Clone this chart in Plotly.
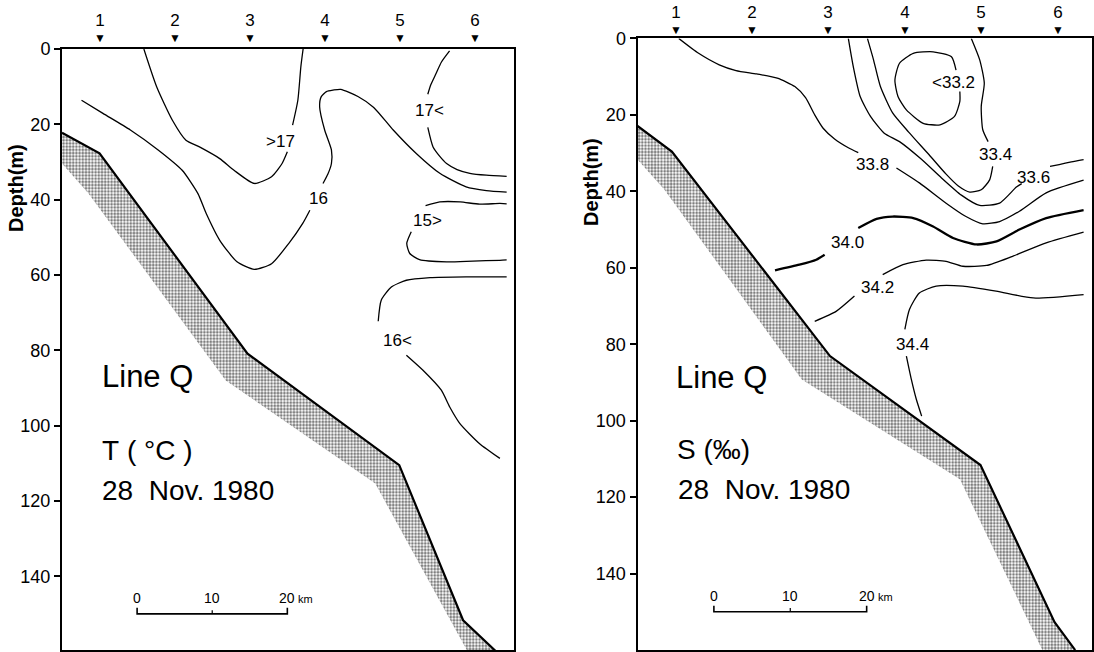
import plotly.graph_objects as go

FONT = "Liberation Sans, Arial, sans-serif"

# ---------------- shared data ----------------
station_labels = ["1", "2", "3", "4", "5", "6"]
station_km = [5, 15, 25, 35, 45, 55]
depth_ticks = [0, 20, 40, 60, 80, 100, 120, 140]
scale_km = [10, 20, 30]          # positions of the 0 / 10 / 20 km scale-bar marks
scale_text = ["0", "10", "20"]
scale_depth = 150

# ---------------- Temperature panel (left) ----------------
t_bottom_x = [0, 5.0, 24.7, 44.9, 53.4, 57.8]
t_bottom_d = [22.2, 27.7, 80.9, 110.5, 151.7, 160]
t_band_x = [0, 3.5, 21.8, 41.7, 54.0]
t_band_d = [30.4, 38.3, 88, 115.4, 160]

t_gt17_x = [10.9, 12.6, 14.7, 16.5, 18.3, 21.0, 22.9, 25.6, 27.9, 29.3, 30.0, None, 30.7, 31.4, 31.8, 32.1]
t_gt17_d = [0, 10.0, 18.9, 24.2, 26.0, 29.1, 32.2, 35.7, 33.9, 30.4, 27.3, None, 20.2, 13.6, 4.7, 0]

t_16_x = [2.6, 5.45, 9.1, 12.8, 16.0, 18.1, 19.2, 21.0, 23.3, 25.6, 27.9, 30.2, 32.05, 33.0, None,
          34.75, 35.4, 35.87, 35.87, 34.97, 34.3, 34.5, 35.2, 36.1, 37.1, 39.4, 41.5, 44.1, 47.2,
          50.3, 53.8, 56.5, 59.2]
t_16_d = [13.6, 17.1, 21.5, 26.8, 32.2, 38.4, 43.7, 50.8, 56.5, 58.5, 57.0, 51.6, 46.3, 42.8, None,
          35.7, 33.2, 30.4, 26.8, 21.5, 15.3, 12.7, 11.3, 10.9, 10.7, 12.6, 15.5, 21.5, 27.8,
          33.0, 36.6, 37.6, 38.0]

t_17lt_x = [51.6, 50.5, 49.8, 49.1, 48.7, None, 48.7, 49.4, 50.3, 51.2, 52.6, 54.3, 56.5, 59.2]
t_17lt_d = [0.5, 3.5, 6.5, 9.5, 12.0, None, 20.8, 26.0, 28.5, 30.4, 32.0, 33.0, 33.5, 33.8]

t_15gt_x = [59.2, 58.3, 55.6, 53.0, 50.3, 48.4, None, 46.5, 45.9, 46.3, 47.6, 51.2, 54.7, 58.3, 59.2]
t_15gt_d = [41.1, 41.0, 41.2, 40.6, 40.6, 41.6, None, 48.5, 51.6, 54.3, 55.9, 56.5, 56.3, 56.1, 56.0]

t_16lt_x = [59.2, 58.3, 53.8, 49.0, 45.85, 43.85, 42.5, 42.1, None, 45.85, 48.06, 50.5, 51.6, 52.95, 55.6, 58.3]
t_16lt_d = [60.5, 60.5, 60.5, 60.7, 61.4, 63.2, 66.7, 72.3, None, 81.3, 85.3, 90.6, 95.0, 99.4, 104.8, 108.7]

t_label_text = [">17", "16", "17<", "15>", "16<"]
t_label_x = [29.1, 34.1, 48.9, 48.7, 44.6]
t_label_d = [24.6, 39.7, 16.2, 45.4, 77.3]

# ---------------- Salinity panel (right) ----------------
s_bottom_x = [0, 4.5, 25.2, 44.9, 54.6, 57.3]
s_bottom_d = [22.9, 29.6, 83.1, 111.6, 152.7, 160]
s_band_x = [0, 3.5, 21.5, 42.2, 53.0]
s_band_d = [31.7, 39.5, 89.2, 115.3, 160]

s_338_x = [5.4, 8.0, 10.7, 12.9, 15.6, 18.3, 20.6, 22.0, 23.2, 24.3, 25.8, 27.6, 28.9, None,
           33.9, 36.9, 40.4, 43.0, 45.2, 47.4, 50.0, 53.5, 58.4]
s_338_d = [0, 3.9, 6.9, 8.4, 9.3, 10.4, 12.6, 15.5, 20.0, 23.5, 26.3, 28.6, 29.9, None,
           33.9, 37.8, 43.1, 46.6, 48.5, 47.9, 45.2, 40.4, 37.1]

s_336_x = [27.6, 28.25, 29.15, 30.5, 32.3, 34.3, 37.1, 39.8, 42.4, 44.8, 47.4, 49.6, 50.3, None,
           54.0, 55.2, 56.8, 58.4]
s_336_d = [0, 7.4, 15.2, 20.4, 24.8, 27.0, 31.5, 36.5, 41.0, 43.7, 43.1, 38.9, 38.0, None,
           33.5, 33.0, 32.3, 31.7]

s_334_x = [30.1, 30.9, 31.8, 33.4, 35.5, 38.2, 40.4, 42.0, 43.5, 45.0, 46.1, 46.5, None,
           45.9, 45.2, 45.0, 45.4, 44.8, 43.7]
s_334_d = [0, 5.6, 12.6, 19.5, 24.5, 30.5, 35.5, 38.6, 40.2, 39.6, 37.0, 33.5, None,
           27.0, 23.9, 17.8, 11.7, 5.6, 0]

s_332_x = [41.7, 41.1, 38.7, 36.1, 34.3, 33.7, 34.1, 35.2, 37.4, 39.6, 41.5, 42.2, 42.2]
s_332_d = [8.3, 4.8, 3.5, 3.9, 6.5, 10.9, 15.2, 18.7, 22.2, 22.6, 20.4, 16.5, 13.9]

s_340_x = [18.0, 21.2, 23.4, 24.5, None, 28.9, 31.3, 33.4, 36.1, 38.7, 41.3, 44.4, 47.0, 50.0,
           53.5, 58.4]
s_340_d = [60.65, 59.2, 57.9, 56.6, None, 49.6, 47.2, 46.6, 47.0, 49.2, 52.2, 53.9, 53.1, 50.0,
           47.0, 44.9]

s_342_x = [23.2, 26.0, 28.4, None, 32.1, 34.75, 37.8, 40.4, 42.6, 45.7, 49.1, 53.5, 58.4]
s_342_d = [74.0, 71.4, 67.4, None, 61.8, 59.2, 58.0, 58.3, 59.6, 59.4, 57.0, 53.5, 50.7]

s_344_x = [58.4, 51.8, 46.95, 42.6, 39.1, 36.9, 35.6, 35.0, None, 35.2, 35.85, 36.5, 37.2]
s_344_d = [67.0, 67.9, 66.1, 64.8, 64.8, 66.6, 70.9, 76.1, None, 83.1, 89.2, 94.4, 98.8]

s_label_text = ["<33.2", "33.4", "33.6", "33.8", "34.0", "34.2", "34.4"]
s_label_x = [41.4, 46.9, 51.9, 30.8, 27.45, 31.4, 36.0]
s_label_d = [11.5, 30.4, 36.5, 33.0, 53.5, 65.2, 80.0]

# ---------------- figure ----------------
fig = go.Figure()
BLACK = "black"


def add_panel(xr, yr, bottom_x, bottom_d, band_x, band_d, contours, thick, labels,
              station_y, texts, text_x, text_d):
    # stippled sediment band
    poly_x = list(bottom_x) + list(reversed(band_x))
    poly_d = list(bottom_d) + list(reversed(band_d))
    fig.add_trace(go.Scatter(
        x=poly_x, y=poly_d, xaxis=xr, yaxis=yr, mode="lines", fill="toself",
        line=dict(width=0, color="rgba(0,0,0,0)"),
        fillpattern=dict(shape=".", fgcolor=BLACK, bgcolor="white", size=3.2, solidity=0.55),
        hoverinfo="skip"))
    # bottom profile
    fig.add_trace(go.Scatter(x=bottom_x, y=bottom_d, xaxis=xr, yaxis=yr, mode="lines",
                             line=dict(color=BLACK, width=2.2), hoverinfo="skip"))
    # isolines
    for i, (cx, cd) in enumerate(contours):
        w = 2.3 if i in thick else 1.3
        fig.add_trace(go.Scatter(x=cx, y=cd, xaxis=xr, yaxis=yr, mode="lines",
                                 line=dict(color=BLACK, width=w, shape="spline", smoothing=0.6),
                                 connectgaps=False, hoverinfo="skip"))
    # scale bar
    sb_x = [scale_km[0], scale_km[0], scale_km[-1], scale_km[-1]]
    sb_d = [scale_depth - 1.6, scale_depth, scale_depth, scale_depth - 1.6]
    fig.add_trace(go.Scatter(x=sb_x, y=sb_d, xaxis=xr, yaxis=yr, mode="lines",
                             line=dict(color=BLACK, width=1.6), hoverinfo="skip"))
    fig.add_trace(go.Scatter(x=[scale_km[1], scale_km[1]], y=[scale_depth, scale_depth - 1.0],
                             xaxis=xr, yaxis=yr, mode="lines",
                             line=dict(color=BLACK, width=1.2), hoverinfo="skip"))
    ann = []
    # station number with its marker, above the frame
    for s, x in zip(station_labels, station_km):
        ann.append(dict(x=x, y=station_y, xref=xr, yref="paper",
                        text="<span style='font-size:17px'>" + s + "</span><br>▼",
                        showarrow=False, yanchor="middle", borderpad=0,
                        font=dict(size=12, family=FONT, color=BLACK)))
    lt, lx, ld = labels
    for t, x, d in zip(lt, lx, ld):
        ann.append(dict(x=x, y=d, xref=xr, yref=yr, text=t, showarrow=False,
                        font=dict(size=17, family=FONT, color=BLACK)))
    for t, x, d, sz in zip(texts, text_x, text_d, [31, 28, 28]):
        ann.append(dict(x=x, y=d, xref=xr, yref=yr, text=t, showarrow=False, xanchor="left",
                        font=dict(size=sz, family=FONT, color=BLACK)))
    for t, x in zip(scale_text, scale_km):
        ann.append(dict(x=x, y=scale_depth - 4.2, xref=xr, yref=yr, text=t, showarrow=False,
                        font=dict(size=14, family=FONT, color=BLACK)))
    ann.append(dict(x=scale_km[-1] + 1.2, y=scale_depth - 4.0, xref=xr, yref=yr, text="km",
                    showarrow=False, xanchor="left", font=dict(size=11, family=FONT, color=BLACK)))
    return ann


t_contours = [(t_gt17_x, t_gt17_d), (t_16_x, t_16_d), (t_17lt_x, t_17lt_d),
              (t_15gt_x, t_15gt_d), (t_16lt_x, t_16lt_d)]
s_contours = [(s_338_x, s_338_d), (s_336_x, s_336_d), (s_334_x, s_334_d), (s_332_x, s_332_d),
              (s_340_x, s_340_d), (s_342_x, s_342_d), (s_344_x, s_344_d)]

NB = "\u00a0"
ann = []
ann += add_panel("x", "y", t_bottom_x, t_bottom_d, t_band_x, t_band_d, t_contours, [],
                 (t_label_text, t_label_x, t_label_d), 1 - 28 / 652,
                 ["Line Q", "T" + NB + "(" + NB + "°C" + NB + ")", "28" + NB + NB + "Nov." + NB + "1980"],
                 [5.0, 5.1, 5.1], [87.0, 106.5, 117.2])
ann += add_panel("x2", "y2", s_bottom_x, s_bottom_d, s_band_x, s_band_d, s_contours, [4],
                 (s_label_text, s_label_x, s_label_d), 1 - 20 / 652,
                 ["Line Q", "S" + NB + "(‰)", "28" + NB + NB + "Nov." + NB + "1980"],
                 [4.8, 4.9, 5.0], [88.7, 107.5, 117.9])

ann.append(dict(x=16 / 1094, y=1 - 188 / 652, xref="paper", yref="paper", text="<b>Depth(m)</b>",
                textangle=-90, showarrow=False, xanchor="center", yanchor="middle",
                font=dict(size=20, family=FONT, color=BLACK)))
ann.append(dict(x=591 / 1094, y=1 - 182 / 652, xref="paper", yref="paper", text="<b>Depth(m)</b>",
                textangle=-90, showarrow=False, xanchor="center", yanchor="middle",
                font=dict(size=20, family=FONT, color=BLACK)))

xcommon = dict(showline=True, mirror=True, linecolor=BLACK, linewidth=2, showgrid=False,
               zeroline=False, showticklabels=False, ticks="", automargin=False)
ycommon = dict(showline=True, mirror=True, linecolor=BLACK, linewidth=2, showgrid=False,
               zeroline=False, tickmode="array", tickvals=depth_ticks, automargin=False,
               ticktext=[str(v) for v in depth_ticks], ticks="outside", ticklen=6, tickwidth=2,
               tickcolor=BLACK, tickfont=dict(size=18, family=FONT, color=BLACK))

fig.update_layout(
    width=1094, height=652, margin=dict(l=0, r=0, t=0, b=0, autoexpand=False),
    paper_bgcolor="white", plot_bgcolor="white", showlegend=False,
    xaxis=dict(domain=[62 / 1094, 513.8 / 1094], range=[0, 60.15], anchor="y", **xcommon),
    yaxis=dict(domain=[0.003, 0.9248], range=[159.6, 0], anchor="x", **ycommon),
    xaxis2=dict(domain=[637.5 / 1094, 1092 / 1094], range=[0, 59.5], anchor="y2", **xcommon),
    yaxis2=dict(domain=[0.003, 0.9411], range=[160, 0], anchor="x2", **ycommon),
    annotations=ann,
)

fig.write_html(
    "out.html", config={"displayModeBar": False},
    post_script=("var gd=document.getElementById('{plot_id}');"
                 "gd.style.position='fixed';gd.style.top='0px';gd.style.left='0px';"
                 "document.body.style.margin='0px';document.body.style.padding='0px';"
                 "document.body.style.overflow='hidden';"
                 "document.documentElement.style.overflow='hidden';"))
